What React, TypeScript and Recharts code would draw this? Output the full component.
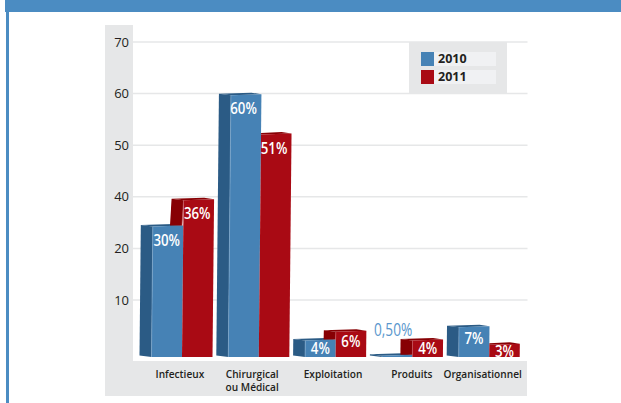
import { ComposedChart, Bar, Line, XAxis, YAxis, CartesianGrid, Legend, LabelList } from 'recharts'

const categories = ['Infectieux', 'Chirurgical\nou Médical', 'Exploitation', 'Produits', 'Organisationnel']
const values2010 = [30, 60, 4, 0.5, 7]
const values2011 = [36, 51, 6, 4, 3]
const tickLabels = ['10', '20', '40', '50', '60', '70']
const tickSlots = [0, 1, 2, 3, 4, 5]

const chartData = categories.map((name, i) => ({
  name,
  y2010: values2010[i],
  y2011: values2011[i]
}))

const BLUE = '#4682b5'
const BLUE_SIDE = '#2b5b85'
const RED = '#a90a14'
const RED_SIDE = '#870004'
const GREY = '#e6e7e8'
const HEADER = '#4b8cc2'
const FONT = '"Open Sans", sans-serif'

const SIDE_WIDTH = 12
// Small shifts that keep the long category names clear of each other
const TICK_SHIFT = [-2, -6.5, -2.5, -0.5, -6.5]

// Front face, left side and top sliver of one extruded bar
function Bar3D(props: any) {
  const { x, y, width, height, payload, value } = props
  const isRed = props.dataKey === 'y2011'
  const base = y + height
  const lean = height * 0.01
  const front = `${x},${base} ${x + width},${base} ${x + width + lean},${y} ${x + lean},${y + 1}`

  // The red block sits behind the blue one, so only the part above it shows
  let sideBase = base - 1.5
  let sideFrontBase = base
  let hidden = false
  if (isRed) {
    const numeric = Array.isArray(value) ? value[1] : value
    const blueTop = base - (payload.y2010 * height) / numeric
    sideBase = Math.min(base - 1.5, blueTop)
    sideFrontBase = Math.min(base, blueTop)
    hidden = blueTop <= y
  }
  const side = `${x - SIDE_WIDTH},${sideBase} ${x},${sideFrontBase} ${x + lean},${y + 1} ${x - SIDE_WIDTH + lean},${y - 0.5}`
  const topStart = hidden ? x + lean : x - SIDE_WIDTH + lean
  const top = `${topStart},${y - 0.5} ${x + width - 10 + lean},${y - 1.5} ${x + width + lean},${y} ${x + lean},${y + 1}`

  return (
    <g>
      {!hidden && <polygon points={side} fill={isRed ? RED_SIDE : BLUE_SIDE} />}
      <polygon points={top} fill={isRed ? RED_SIDE : BLUE_SIDE} />
      <polygon points={front} fill={isRed ? RED : BLUE} />
      {!hidden && (
        <line
          x1={x}
          y1={sideFrontBase}
          x2={x + lean}
          y2={y + 1}
          stroke={isRed ? '#c4525a' : '#7ea7cb'}
          strokeWidth={0.7}
        />
      )}
    </g>
  )
}

function ValueLabel(props: any) {
  const { x, y, width, height, value } = props
  // The 0,50% block is too thin to hold its label, it goes above in blue
  if (value < 1) {
    return (
      <text
        transform={`translate(${x + width / 2 - 4},${y - 19}) scale(0.76,1)`}
        textAnchor="middle"
        fontFamily={FONT}
        fontSize={18}
        fill="#5b97cd"
      >
        {value.toFixed(2).replace('.', ',')}%
      </text>
    )
  }
  return (
    <text
      transform={`translate(${x + width / 2},${y + Math.min(20, 10 + height * 0.25)}) scale(0.78,1)`}
      textAnchor="middle"
      fontFamily={FONT}
      fontWeight={600}
      fontSize={17}
      fill="#fff"
    >
      {value}%
    </text>
  )
}

function CategoryTick(props: any) {
  const { x, y, payload, index } = props
  return (
    <text
      transform={`translate(${x + TICK_SHIFT[index]},${y + 13}) scale(0.88,1)`}
      textAnchor="middle"
      fontFamily={FONT}
      fontWeight={600}
      fontSize={11.5}
      fill="#231f20"
    >
      {String(payload.value)
        .split('\n')
        .map((line, i) => (
          <tspan key={line} x={0} y={i * 12.5}>
            {line}
          </tspan>
        ))}
    </text>
  )
}

function LegendBox({ payload }: any) {
  const entries = (payload || []).filter((entry: any) => entry.type !== 'none')
  return (
    <div style={{ width: 98, height: 52, background: GREY, paddingTop: 10, boxSizing: 'border-box' }}>
      {entries.map((entry: any) => (
        <div key={entry.value} style={{ display: 'flex', height: 14, margin: '0 11px 4px 12px', background: '#f0f1f3' }}>
          <div style={{ width: 13, height: 14, background: entry.color }} />
          <div style={{ marginLeft: 4, font: `700 12.5px/14px ${FONT}`, color: '#231f20' }}>{entry.value}</div>
        </div>
      ))}
    </div>
  )
}

export default function App() {
  return (
    <div style={{ position: 'absolute', left: 0, top: 0, width: 621, height: 403, overflow: 'hidden', background: '#fff' }}>
      {/* page header band and left rule */}
      <div style={{ position: 'absolute', left: 5, top: 0, width: 616, height: 12, background: HEADER }} />
      <div style={{ position: 'absolute', left: 6, top: 0, width: 3, height: 403, background: HEADER }} />
      {/* grey frame behind the axes */}
      <div style={{ position: 'absolute', left: 105, top: 25, width: 28, height: 371, background: GREY }} />
      <div style={{ position: 'absolute', left: 105, top: 361, width: 422, height: 35, background: GREY }} />

      <ComposedChart
        style={{ position: 'absolute', left: 0, top: 0 }}
        width={621}
        height={403}
        data={chartData}
        margin={{ top: 25, right: 93.5, bottom: 6, left: 105 }}
        barSize={30.5}
        barGap={0}
      >
        <CartesianGrid
          yAxisId="labels"
          vertical={false}
          stroke={GREY}
          strokeWidth={1.5}
          syncWithTicks
          horizontalValues={tickSlots}
        />
        <XAxis
          dataKey="name"
          height={40}
          axisLine={false}
          tickLine={false}
          interval={0}
          padding={{ left: 10.5, right: 0 }}
          tick={<CategoryTick />}
        />
        <YAxis yAxisId="values" hide domain={[0, 75.8]} />
        {/* evenly spaced printed scale, independent of the bar values */}
        <YAxis
          yAxisId="labels"
          orientation="left"
          width={28}
          type="number"
          domain={[-1.105, 5.33]}
          allowDataOverflow
          ticks={tickSlots}
          interval={0}
          axisLine={false}
          tickLine={false}
          tickSize={0}
          tickMargin={4}
          tick={{ fontFamily: FONT, fontSize: 13, fill: '#231f20' }}
          tickFormatter={(i: number) => tickLabels[i]}
        />
        <Legend
          layout="vertical"
          align="center"
          verticalAlign="middle"
          wrapperStyle={{ left: 409, top: 42, width: 98, height: 52 }}
          content={<LegendBox />}
        />
        <Line yAxisId="labels" dataKey="slot" stroke="none" dot={false} legendType="none" isAnimationActive={false} />
        <Bar yAxisId="values" dataKey="y2010" name="2010" fill={BLUE} shape={<Bar3D dataKey="y2010" />} isAnimationActive={false}>
          <LabelList dataKey="y2010" content={<ValueLabel />} />
        </Bar>
        <Bar yAxisId="values" dataKey="y2011" name="2011" fill={RED} shape={<Bar3D dataKey="y2011" />} isAnimationActive={false}>
          <LabelList dataKey="y2011" content={<ValueLabel />} />
        </Bar>
      </ComposedChart>
    </div>
  )
}
